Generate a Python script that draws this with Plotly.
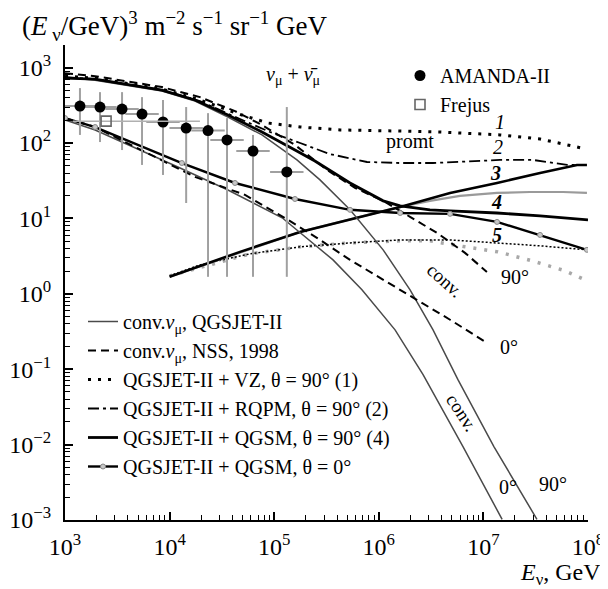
import plotly.graph_objects as go

FONT = "Liberation Serif"

# ---------------- data ----------------
# conventional nu_mu flux, QGSJET-II (theta = 90 deg and 0 deg)
CONV_QGS_90_E = [1000, 1940, 8450, 1.75e4, 3.61e4, 7.64e4, 1.65e5, 2.74e5, 5.31e5, 1.10e6, 1.99e6, 3.30e6, 5.71e6, 1.26e7, 3.25e7]
CONV_QGS_90_F = [748, 682, 489, 360, 221, 128, 59.6, 32.4, 13.0, 3.83, 1.13, 0.333, 0.0726, 0.00942, 0.00102]
CONV_QGS_0_E = [1000, 1940, 1.20e4, 3.61e4, 1.19e5, 3.65e5, 6.90e5, 1.43e6, 2.65e6, 6.38e6, 1.51e7]
CONV_QGS_0_F = [202, 149, 48.1, 23.8, 10.2, 2.82, 1.13, 0.333, 0.0845, 0.00942, 0.00102]

# conventional nu_mu flux, NSS 1998
CONV_NSS_90_E = [1000, 1940, 8450, 1.95e4, 4.22e4, 7.64e4, 1.58e5, 3.20e5, 5.92e5, 1.10e6, 1.99e6, 3.60e6, 6.67e6, 1.08e7]
CONV_NSS_90_F = [845, 771, 552, 406, 265, 173, 94.2, 43.9, 25.4, 17.1, 10.5, 6.43, 3.49, 1.95]
CONV_NSS_0_E = [1000, 1940, 1.75e4, 5.26e4, 1.36e5, 2.56e5, 5.31e5, 1.60e6, 4.80e6, 1.08e7]
CONV_NSS_0_F = [214, 163, 35.5, 20.5, 9.55, 5.52, 2.82, 1.13, 0.453, 0.224]

# totals (conv + prompt)
VZ_90_E = [1000, 1940, 8450, 1.95e4, 4.92e4, 8.73e4, 1.77e5, 4.26e5, 1.60e6, 3.85e6, 1.44e7, 3.48e7, 7.85e7, 9.35e7]
VZ_90_F = [771, 726, 519, 372, 235, 184, 163, 149, 144, 140, 128, 113, 88.5, 83.4]
RQPM_90_E = [1000, 1940, 8450, 1.95e4, 4.71e4, 9.12e4, 1.77e5, 3.41e5, 7.71e5, 1.60e6, 3.30e6, 1.44e7, 2.98e7, 6.30e7, 9.35e7]
RQPM_90_F = [748, 705, 504, 360, 208, 140, 100, 71.4, 56.0, 54.3, 54.3, 59.6, 59.6, 51.2, 51.2]
QGSM_90_E = [1000, 1940, 8450, 1.75e4, 3.61e4, 7.64e4, 1.58e5, 2.45e5, 5.31e5, 1.10e6, 1.60e6, 3.08e6, 4.80e6, 1.35e7, 3.48e7, 1.0e8]
QGSM_90_F = [726, 705, 504, 372, 235, 140, 80.7, 57.8, 29.5, 17.1, 14.7, 13.0, 12.6, 11.8, 10.8, 9.55]
QGSM_0_E = [1000, 1940, 1.31e4, 4.22e4, 1.58e5, 5.31e5, 1.60e6, 4.80e6, 1.35e7, 3.48e7, 9.77e7]
QGSM_0_F = [214, 163, 54.3, 29.5, 18.1, 13.0, 11.8, 11.5, 8.99, 6.04, 3.83]

# prompt-only curves (3, 4, 5 and the grey-circle one)
PROMPT3_E = [1e4, 1.95e4, 4.71e4, 1.77e5, 6.61e5, 1.60e6, 4.80e6, 1.35e7, 3.48e7, 7.85e7, 9.77e7]
PROMPT3_F = [1.68, 2.35, 3.60, 6.62, 10.5, 14.2, 21.8, 29.5, 40.1, 51.2, 51.2]
PROMPT4_E = [1e4, 5.87e4, 1.77e5, 6.61e5, 1.60e6, 3.08e6, 5.97e6, 1.35e7, 2.79e7, 5.77e7, 9.77e7]
PROMPT4_F = [1.68, 3.94, 6.62, 10.5, 14.2, 17.1, 19.9, 21.8, 22.4, 22.4, 21.8]
PROMPT5_E = [1e4, 1.95e4, 5.87e4, 1.77e5, 5.31e5, 1.60e6, 4.80e6, 1.44e7, 3.48e7, 9.77e7]
PROMPT5_F = [1.73, 2.42, 3.39, 4.20, 4.73, 5.19, 5.19, 4.73, 4.33, 3.83]
PROMPT6_E = [1e4, 5.87e4, 1.77e5, 5.31e5, 1.60e6, 3.08e6, 6.67e6, 1.38e7, 2.92e7, 6.03e7, 9.77e7]
PROMPT6_F = [1.73, 3.39, 4.20, 4.73, 5.04, 5.04, 4.20, 3.60, 2.74, 2.02, 1.49]

# measurements
AMANDA_E = [1390, 2160, 3510, 5450, 8650, 14400, 23300, 35400, 62700, 132000]
AMANDA_F = [309, 300, 282, 242, 190, 158, 146, 110, 78.3, 41.3]
AMANDA_F_HI = [535, 473, 473, 406, 372, 300, 249, 214, 128, 300]
AMANDA_F_LO = [128, 103, 80.7, 51.2, 37.7, 16.0, 1.68, 1.68, 1.68, 1.68]
AMANDA_E_LO = [962, 1495, 2429, 3772, 5986, 9965, 16120, 24500, 43390, 91350]
AMANDA_E_HI = [2009, 3121, 5072, 7875, 12500, 20810, 33670, 51150, 90600, 190700]
FREJUS_E = [2470]
FREJUS_F = [195]
FREJUS_E_LO = [1190]
FREJUS_E_HI = [19500]

X_TICKS = [1e3, 1e4, 1e5, 1e6, 1e7, 1e8]
X_TICKTEXT = ["10<sup>3</sup>", "10<sup>4</sup>", "10<sup>5</sup>", "10<sup>6</sup>", "10<sup>7</sup>", "10<sup>8</sup>"]
Y_TICKS = [1e-3, 1e-2, 1e-1, 1e0, 1e1, 1e2, 1e3]
Y_TICKTEXT = ["10<sup>−3</sup>", "10<sup>−2</sup>", "10<sup>−1</sup>", "10<sup>0</sup>",
              "10<sup>1</sup>", "10<sup>2</sup>", "10<sup>3</sup>"]

# ---------------- figure ----------------
fig = go.Figure()

def line(x, y, name=None, color="black", width=1.5, dash="solid", show=False, group=None, mode="lines", marker=None):
    fig.add_trace(go.Scatter(x=x, y=y, mode=mode, name=name, showlegend=show,
                             legendgroup=group, line=dict(color=color, width=width, dash=dash),
                             marker=marker, hoverinfo="skip"))

# prompt-only curves
line(PROMPT6_E, PROMPT6_F, color="#a8a8a8", width=3.5, dash="3px,8px")
line(PROMPT5_E, PROMPT5_F, color="black", width=1.5, dash="2px,2px")
line(PROMPT4_E, PROMPT4_F, color="#9a9a9a", width=2.2)
line(PROMPT3_E, PROMPT3_F, color="black", width=2.6)

# legend traces in order
line(CONV_QGS_90_E, CONV_QGS_90_F, name="conv.<i>ν</i><sub>μ</sub>, QGSJET-II", color="#4a4a4a", width=1.5, show=True, group="q")
line(CONV_QGS_0_E, CONV_QGS_0_F, color="#4a4a4a", width=1.5, group="q")
line(CONV_NSS_90_E, CONV_NSS_90_F, name="conv.<i>ν</i><sub>μ</sub>, NSS, 1998", color="black", width=2, dash="8px,5px", show=True, group="n")
line(CONV_NSS_0_E, CONV_NSS_0_F, color="black", width=2, dash="8px,5px", group="n")
line(VZ_90_E, VZ_90_F, name="QGSJET-II + VZ, θ = 90° (1)", color="black", width=3, dash="3px,7px", show=True)
line(RQPM_90_E, RQPM_90_F, name="QGSJET-II + RQPM, θ = 90° (2)", color="black", width=1.8, dash="11px,4px,3px,4px", show=True)
line(QGSM_90_E, QGSM_90_F, name="QGSJET-II + QGSM, θ = 90° (4)", color="black", width=2.8, show=True)
line(QGSM_0_E, QGSM_0_F, name="QGSJET-II + QGSM, θ = 0°", color="black", width=2.4, show=True,
     mode="lines+markers", marker=dict(symbol="circle", size=5, color="#c8c8c8", line=dict(color="#888", width=1)))

# data points
fig.add_trace(go.Scatter(
    x=AMANDA_E, y=AMANDA_F, mode="markers", name="AMANDA-II", legend="legend2",
    marker=dict(symbol="circle", size=11, color="black"),
    error_y=dict(type="data", symmetric=False,
                 array=[h - f for h, f in zip(AMANDA_F_HI, AMANDA_F)],
                 arrayminus=[f - l for f, l in zip(AMANDA_F, AMANDA_F_LO)],
                 color="#a0a0a0", thickness=2, width=0),
    error_x=dict(type="data", symmetric=False,
                 array=[h - e for h, e in zip(AMANDA_E_HI, AMANDA_E)],
                 arrayminus=[e - l for e, l in zip(AMANDA_E, AMANDA_E_LO)],
                 color="#a0a0a0", thickness=2, width=0),
    hoverinfo="skip"))
fig.add_trace(go.Scatter(
    x=FREJUS_E, y=FREJUS_F, mode="markers", name="Frejus", legend="legend2",
    marker=dict(symbol="square-open", size=10, color="#666", line=dict(width=1.6)),
    error_x=dict(type="data", symmetric=False,
                 array=[h - e for h, e in zip(FREJUS_E_HI, FREJUS_E)],
                 arrayminus=[e - l for e, l in zip(FREJUS_E, FREJUS_E_LO)],
                 color="#b0b0b0", thickness=1.5, width=0),
    hoverinfo="skip"))

axis_common = dict(
    type="log", showgrid=False, zeroline=False, showline=True, linecolor="black", linewidth=2.2,
    ticks="inside", ticklen=8, tickwidth=1.6, tickcolor="black", mirror=False, automargin=False,
    tickfont=dict(family=FONT, size=24, color="black"),
    minor=dict(ticks="inside", ticklen=5, tickwidth=1.3, tickcolor="black", dtick="D1", showgrid=False),
)
fig.update_xaxes(range=[3, 8], tickvals=X_TICKS, ticktext=X_TICKTEXT, ticklabelstandoff=4, **axis_common)
fig.update_yaxes(range=[-3, 3.3], tickvals=Y_TICKS, ticktext=Y_TICKTEXT, ticklabelstandoff=7, **axis_common)

# the page body keeps an 8 px margin, so the figure is sized 8 px smaller
# and its margins shifted so the plot area sits at page x 65..588, y 45..520
PAGE_OFF = 8
PX0, PX1, PY0, PY1 = 65, 588, 45, 520


def xp(px):
    return (px - PX0) / (PX1 - PX0)


def yp(py):
    return (PY1 - py) / (PY1 - PY0)


def note(text, x, y, size=20, angle=0, xanchor="center", italic=False):
    if italic:
        text = "<i>" + text + "</i>"
    fig.add_annotation(text=text, x=x, y=y, xref="paper", yref="paper", showarrow=False,
                       textangle=angle, xanchor=xanchor, yanchor="middle",
                       font=dict(family=FONT, size=size, color="black"))

note("<i>ν</i><sub>μ</sub> + <i>ν̄</i><sub>μ</sub>", 0.436, 0.935, size=20)
note("1", 0.832, 0.838, italic=True)
note("promt", 0.660, 0.796)
note("2", 0.828, 0.785, italic=True)
note("<b>3</b>", 0.824, 0.731, italic=True)
note("<b>4</b>", 0.826, 0.669, italic=True)
note("<b>5</b>", 0.826, 0.600, italic=True)
note("conv.", 0.727, 0.505, size=19, angle=42)
note("90°", 0.860, 0.512)
note("0°", 0.849, 0.364)
note("conv.", 0.759, 0.227, size=19, angle=57)
note("0°", 0.847, 0.069)
note("90°", 0.933, 0.076)

# axis titles
fig.add_annotation(text="(<i>E</i><sub> ν</sub>/GeV)<sup>3</sup> m<sup>−2</sup> s<sup>−1</sup> sr<sup>−1</sup> GeV",
                   x=xp(20), y=yp(26), xref="paper", yref="paper", showarrow=False,
                   xanchor="left", yanchor="middle", font=dict(family=FONT, size=27, color="black"))
fig.add_annotation(text="<i>E</i><sub>ν</sub>, GeV", x=xp(603), y=yp(574),
                   xref="paper", yref="paper", showarrow=False, xanchor="right", yanchor="middle",
                   font=dict(family=FONT, size=24, color="black"))

fig.update_layout(
    width=608 - PAGE_OFF, height=589 - PAGE_OFF,
    margin=dict(l=PX0 - PAGE_OFF, r=608 - PX1, t=PY0 - PAGE_OFF, b=589 - PY1),
    paper_bgcolor="white", plot_bgcolor="white",
    font=dict(family=FONT, color="black"),
    showlegend=True,
    legend=dict(x=xp(83), y=yp(302), xanchor="left", yanchor="top",
                bgcolor="rgba(0,0,0,0)", borderwidth=0, tracegroupgap=0,
                font=dict(family=FONT, size=20, color="black"), itemwidth=30),
    legend2=dict(x=xp(400), y=yp(56), xanchor="left", yanchor="top",
                 bgcolor="rgba(0,0,0,0)", borderwidth=0,
                 font=dict(family=FONT, size=20, color="black"), itemwidth=30),
)

fig.write_html("out.html")
